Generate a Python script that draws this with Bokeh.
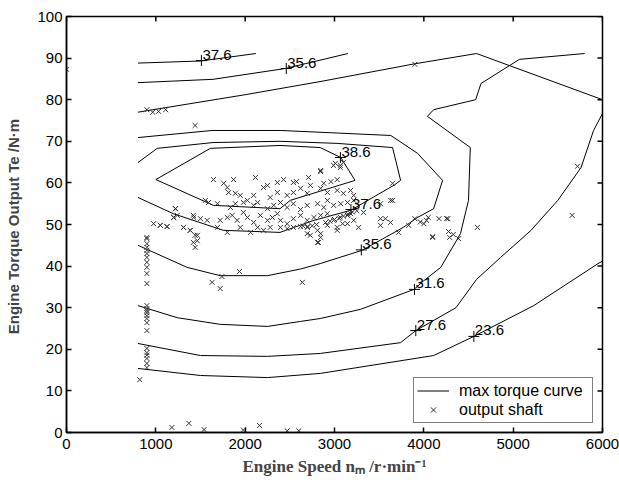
import math
from bokeh.plotting import figure
from bokeh.models import FixedTicker, Legend, LegendItem, Range1d
from bokeh.embed import file_html
from bokeh.resources import INLINE
from bokeh.core.properties import value

# ---------------- data ----------------
speed_ticks = [0, 1000, 2000, 3000, 4000, 5000, 6000]
torque_ticks = [0, 10, 20, 30, 40, 50, 60, 70, 80, 90, 100]

# max torque curve
max_speed = [800, 2000, 2850, 3890, 4590, 6000]
max_torque = [77.0, 81.2, 84.4, 88.6, 91.1, 80.0]

# contour lines (efficiency iso-lines)
c376a_x = [800, 1500, 2120]
c376a_y = [88.8, 89.3, 91.1]

c356a_x = [800, 1640, 2450, 3150]
c356a_y = [84.1, 84.9, 87.5, 91.1]

c386_x = [1000, 1610, 2390, 2840, 3070, 3230, 2505, 2390, 1645, 1000]
c386_y = [60.8, 68.3, 69.0, 68.5, 66.1, 60.6, 55.8, 53.8, 54.6, 60.8]

c376b_x = [800, 1015, 1640, 2390, 3030, 3650, 3740, 3670, 3180, 2770, 2390, 1755, 1195, 800]
c376b_y = [64.9, 68.3, 69.7, 70.0, 69.5, 68.5, 60.6, 59.5, 53.4, 51.0, 48.1, 48.6, 52.6, 56.5]

c356b_x = [800, 1630, 2400, 3630, 3930, 4210, 4110, 3930, 3770, 3310, 2840, 2620, 2250, 1720, 1350, 800]
c356b_y = [70.9, 72.6, 72.6, 71.4, 67.1, 60.6, 53.8, 51.7, 49.3, 43.8, 40.6, 39.3, 37.7, 37.7, 39.7, 45.0]

c316_x = [800, 1240, 1720, 2250, 2620, 2840, 3290, 3890, 4000, 4190, 4410, 4500, 4520, 4040, 4110, 4580, 4640, 5070, 5800]
c316_y = [30.5, 27.6, 26.0, 25.5, 26.7, 27.4, 29.6, 34.4, 36.5, 39.7, 47.8, 55.8, 68.5, 76.0, 77.6, 80.0, 83.9, 89.7, 91.1]

c276_x = [800, 1500, 2250, 2840, 3740, 3910, 4360, 4590, 4860, 5200, 5500, 5760, 5900, 6000]
c276_y = [21.4, 18.5, 18.3, 19.0, 21.6, 24.5, 30.0, 36.8, 42.1, 48.6, 55.8, 63.7, 72.6, 76.7]

c236_x = [800, 1500, 2250, 2840, 4110, 4560, 5230, 5950, 6000]
c236_y = [15.4, 13.7, 13.2, 14.2, 18.5, 23.1, 30.5, 40.6, 41.2]

# contour labels
label_speed = [1510, 2460, 3066, 3184, 3300, 3895, 3910, 4560]
label_torque = [89.4, 87.5, 66.1, 53.6, 43.9, 34.4, 24.5, 23.1]
label_text = ["37.6", "35.6", "38.6", "37.6", "35.6", "31.6", "27.6", "23.6"]

# operating points of the output shaft
shaft_speed = [
    0, 900, 965, 1030, 1110, 1440, 3900, 5720, 5660,
    1180, 1370, 1540, 1980, 2160, 2470, 2600, 820,
    900, 900, 900, 900, 900, 900, 900, 900, 900, 900, 900, 900,
    900, 900, 900, 900, 900, 900, 900, 900, 900, 900, 900, 900, 900,
    1440, 1420, 1630, 1720, 1740, 1936, 2640, 2730, 2810,
    975, 1050, 1125, 1220, 1200, 1240, 1310, 1385, 1420, 1440, 1465,
    1645, 1760, 1870, 2115, 2250, 2360, 2430, 2540, 2575, 2710, 2730, 2845, 2880, 2960, 3030, 3010, 3065,
    1800, 1815, 1890, 1945, 2095, 2205, 2280, 2360, 2470, 2540, 2620, 2695, 2845, 2920, 3030, 3100, 3180, 3215,
    1555, 1590, 1690, 1835, 1890, 1980, 2025, 2095, 2140, 2250, 2320, 2395, 2470, 2540, 2620, 2695, 2810, 2880, 2920, 2990, 3070, 3145, 3215,
    1220, 1200, 1425, 1500, 1575, 1720, 1800, 1855, 1910, 1980, 2025, 2095, 2170, 2250, 2305, 2360, 2395, 2470, 2540, 2620, 2695, 2770, 2845, 2920, 2990, 3065, 3145, 3215,
    1050, 1125, 1310, 1385, 1465, 1690, 1800, 1945, 2060, 2140, 2205, 2280, 2395, 2470, 2540, 2620, 2695, 2810, 2845, 2920, 3030, 3145,
    3270, 3515, 3630, 3515, 2820, 2695, 2845, 3030, 3090, 3180, 3325,
    2990, 3065, 3100, 2845,
    2650, 2700, 2750, 2800, 2900, 2950, 3000, 3050, 3100, 3150, 3200, 3250,
    3650, 3650, 4255, 4600, 4277, 4288, 4389, 4098, 4000, 4030, 4050, 3830, 3900, 3960,
    3515, 3570, 3627, 3717, 4170, 4270, 4100, 4330,
]
shaft_torque = [
    87.3, 77.6, 77.0, 77.2, 77.6, 73.8, 88.5, 64.0, 52.2,
    1.2, 2.2, 0.7, 0.6, 1.7, 0.4, 0.4, 12.7,
    46.9, 46.6, 45.4, 44.5, 43.8, 43.0, 42.1, 40.9, 39.7, 38.2, 35.8, 30.5,
    29.8, 29.3, 28.8, 28.1, 27.4, 26.4, 24.5, 20.2, 19.2, 18.6, 17.8, 16.6, 15.6,
    44.5, 45.7, 36.1, 34.6, 37.5, 38.7, 36.1, 47.4, 45.7,
    50.2, 49.8, 49.5, 53.8, 51.7, 52.2, 49.3, 48.6, 52.2, 47.4, 46.1,
    60.8, 59.9, 60.8, 61.3, 59.4, 60.1, 60.8, 60.1, 60.3, 61.3, 59.4, 62.7, 59.9, 60.3, 60.8, 64.7, 63.7,
    58.9, 57.7, 57.5, 57.0, 57.0, 58.9, 56.5, 57.7, 57.0, 57.7, 58.7, 57.5, 58.7, 57.7, 58.2, 57.5, 58.2, 57.0,
    55.8, 55.3, 55.0, 54.1, 55.0, 55.3, 55.8, 54.6, 55.3, 53.8, 54.6, 55.3, 54.1, 55.0, 53.6, 54.6, 55.0, 54.1, 55.8, 54.6, 55.0, 55.3, 55.8,
    53.8, 51.7, 51.7, 51.4, 51.0, 51.0, 51.7, 52.2, 51.0, 52.9, 51.7, 50.5, 52.2, 51.0, 51.7, 52.6, 51.0, 50.2, 51.4, 52.2, 51.0, 51.7, 52.2, 52.6, 51.0, 51.7, 52.2, 51.0,
    49.8, 49.5, 49.3, 48.6, 47.4, 49.3, 48.1, 49.3, 48.1, 49.3, 48.6, 49.3, 49.3, 49.0, 49.3, 49.5, 49.3, 48.6, 46.9, 49.8, 49.3, 50.2,
    49.3, 51.4, 55.8, 55.0, 45.7, 47.8, 47.8, 48.6, 50.2, 52.6, 52.9,
    64.2, 64.2, 64.9, 63.0,
    49.6, 49.5, 49.7, 50.0, 50.5, 50.8, 51.2, 51.5, 52.0, 52.5, 53.0, 53.3,
    59.9, 55.8, 51.4, 49.3, 48.3, 46.9, 46.6, 46.9, 50.2, 51.0, 51.7, 49.8, 51.4, 50.6,
    49.8, 51.4, 50.5, 48.1, 51.4, 51.4, 47.1, 47.6,
]

# ---------------- figure ----------------
p = figure(width=619, height=480, output_backend="svg", toolbar_location=None,
           x_range=Range1d(0, 6000), y_range=Range1d(0, 100),
           min_border_left=66, min_border_right=17, min_border_top=16,
           min_border_bottom=48, background_fill_color="white",
           border_fill_color="white")
p.grid.visible = False
p.outline_line_color = "black"
p.outline_line_width = 1.5

FONT = "Liberation Sans"

def style_axis(ax, ticks):
    ax.ticker = FixedTicker(ticks=ticks)
    ax.minor_tick_line_color = None
    ax.major_tick_in = 5
    ax.major_tick_out = 0
    ax.axis_line_color = "black"
    ax.axis_line_width = 1.5
    ax.major_tick_line_color = "black"
    ax.major_tick_line_width = 1.5
    ax.major_label_text_font = FONT
    ax.major_label_text_color = "black"
    ax.major_label_text_font_size = "15px"

xa = p.xaxis[0]
ya = p.yaxis[0]
style_axis(xa, speed_ticks)
style_axis(ya, torque_ticks)
xa.major_label_standoff = 6
ya.major_label_standoff = 4
xa.axis_label = "Engine Speed nₘ /r·min⁻¹"
xa.axis_label_text_font = "Liberation Serif"
xa.axis_label_text_font_style = "bold"
xa.axis_label_text_font_size = "17px"
xa.axis_label_standoff = 5
ya.axis_label = "Engine Torque Output  Te /N·m"
ya.axis_label_text_font = FONT
ya.axis_label_text_font_style = "bold"
ya.axis_label_text_font_size = "15px"
ya.axis_label_standoff = 12

# inward ticks on the top and right frame edges
x_max, y_max = 6000, 100
p.ray(x=speed_ticks, y=[y_max] * len(speed_ticks), length=5, length_units="screen",
      angle=-math.pi / 2, line_color="black", line_width=1.5)
p.ray(x=[x_max] * len(torque_ticks), y=torque_ticks, length=5, length_units="screen",
      angle=math.pi, line_color="black", line_width=1.5)

LINE = dict(line_color="black", line_width=1)
max_r = p.line(max_speed, max_torque, **LINE)
for cx, cy in [(c376a_x, c376a_y), (c356a_x, c356a_y), (c386_x, c386_y),
               (c376b_x, c376b_y), (c356b_x, c356b_y), (c316_x, c316_y),
               (c276_x, c276_y), (c236_x, c236_y)]:
    p.line(cx, cy, **LINE)

pts = p.scatter(shaft_speed, shaft_torque, marker="x", size=7,
                line_color="#333333", line_width=1)

p.scatter(label_speed, label_torque, marker="cross", size=11,
          line_color="black", line_width=1)
p.text(label_speed, label_torque, text=label_text, x_offset=1, y_offset=-1,
       text_font=value(FONT), text_font_size="15px", text_color="black",
       text_baseline="bottom", text_align="left")

legend = Legend(items=[LegendItem(label="max torque curve", renderers=[max_r]),
                       LegendItem(label="output shaft", renderers=[pts])],
                location="bottom_right", margin=9, padding=3, spacing=0,
                glyph_width=32, glyph_height=19, label_height=19,
                label_standoff=10, label_width=130,
                border_line_color="black",
                border_line_width=1, label_text_font=FONT,
                label_text_font_size="16px", label_text_color="black",
                background_fill_alpha=1)
p.add_layout(legend)

open("out.html", "w").write(file_html(p, INLINE))
